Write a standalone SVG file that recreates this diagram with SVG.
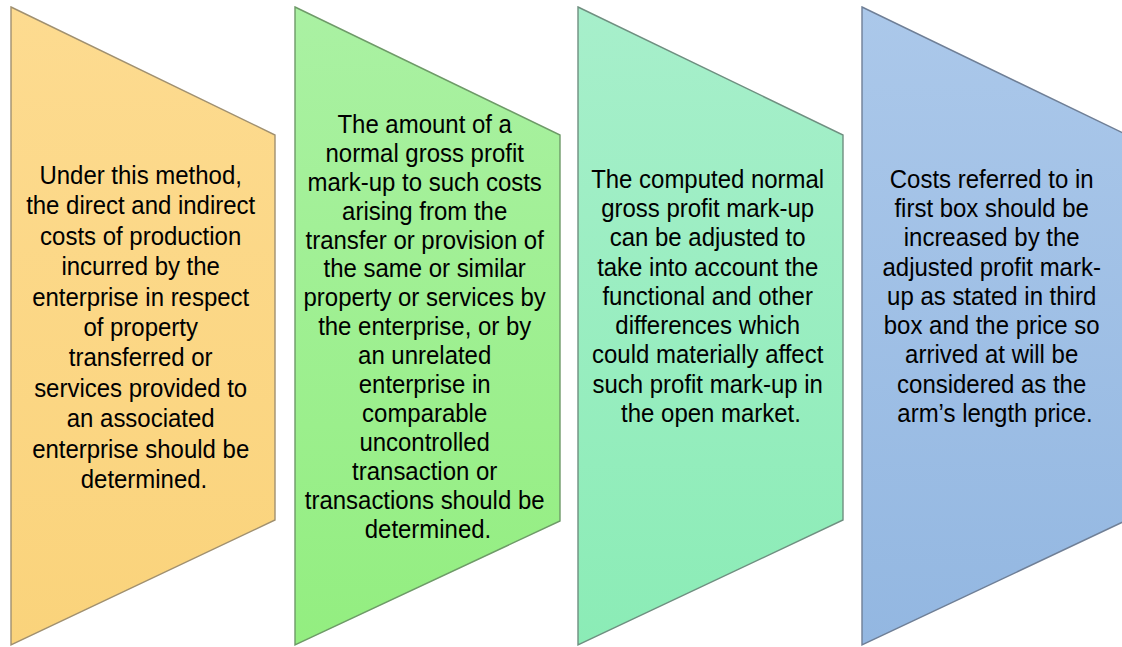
<svg xmlns="http://www.w3.org/2000/svg" width="1122" height="647" viewBox="0 0 1122 647">
<defs>
<linearGradient id="gO" x1="0" y1="0" x2="0" y2="1"><stop offset="0" stop-color="#FDDB90"/><stop offset="1" stop-color="#FAD37B"/></linearGradient>
<linearGradient id="gG" x1="0" y1="0" x2="0" y2="1"><stop offset="0" stop-color="#AAF1A3"/><stop offset="1" stop-color="#93EE80"/></linearGradient>
<linearGradient id="gT" x1="0" y1="0" x2="0" y2="1"><stop offset="0" stop-color="#A7EFCB"/><stop offset="1" stop-color="#8BECB6"/></linearGradient>
<linearGradient id="gB" x1="0" y1="0" x2="0" y2="1"><stop offset="0" stop-color="#ABC8EA"/><stop offset="1" stop-color="#93B7E1"/></linearGradient>
</defs>
<style>
.s{stroke-width:1.4;stroke-linejoin:miter}
.t{font-family:"Liberation Sans",Arial,sans-serif;font-size:25.5px;fill:#000;text-anchor:middle}
</style>
<rect width="1122" height="647" fill="#fff"/>
<g id="node1">
<polygon class="s" points="11,7 275,135 275,520 11,645" fill="url(#gO)" stroke="#A09070"/>
<text class="t" transform="translate(144,184) scale(0.94,1)">
<tspan x="0" y="0">Under this method,</tspan>
<tspan x="0" dy="30.4">the direct and indirect</tspan>
<tspan x="0" dy="30.4">costs of production</tspan>
<tspan x="0" dy="30.4">incurred by the</tspan>
<tspan x="0" dy="30.4">enterprise in respect</tspan>
<tspan x="0" dy="30.4">of property</tspan>
<tspan x="0" dy="30.4">transferred or</tspan>
<tspan x="0" dy="30.4">services provided to</tspan>
<tspan x="0" dy="30.4">an associated</tspan>
<tspan x="0" dy="30.4">enterprise should be</tspan>
<tspan x="0" dy="30.4">determined.</tspan>
</text>
</g>
<g id="node2">
<polygon class="s" points="295,7 560,135 560,521 295,645" fill="url(#gG)" stroke="#6E9A68"/>
<text class="t" transform="translate(428,133) scale(0.94,1)">
<tspan x="0" y="0">The amount of a</tspan>
<tspan x="0" dy="28.9">normal gross profit</tspan>
<tspan x="0" dy="28.9">mark-up to such costs</tspan>
<tspan x="0" dy="28.9">arising from the</tspan>
<tspan x="0" dy="28.9">transfer or provision of</tspan>
<tspan x="0" dy="28.9">the same or similar</tspan>
<tspan x="0" dy="28.9">property or services by</tspan>
<tspan x="0" dy="28.9">the enterprise, or by</tspan>
<tspan x="0" dy="28.9">an unrelated</tspan>
<tspan x="0" dy="28.9">enterprise in</tspan>
<tspan x="0" dy="28.9">comparable</tspan>
<tspan x="0" dy="28.9">uncontrolled</tspan>
<tspan x="0" dy="28.9">transaction or</tspan>
<tspan x="0" dy="28.9">transactions should be</tspan>
<tspan x="0" dy="28.9">determined.</tspan>
</text>
</g>
<g id="node3">
<polygon class="s" points="578,7 843,135 843,520 578,645" fill="url(#gT)" stroke="#6F8F80"/>
<text class="t" transform="translate(711,188) scale(0.94,1)">
<tspan x="0" y="0">The computed normal</tspan>
<tspan x="0" dy="29.25">gross profit mark-up</tspan>
<tspan x="0" dy="29.25">can be adjusted to</tspan>
<tspan x="0" dy="29.25">take into account the</tspan>
<tspan x="0" dy="29.25">functional and other</tspan>
<tspan x="0" dy="29.25">differences which</tspan>
<tspan x="0" dy="29.25">could materially affect</tspan>
<tspan x="0" dy="29.25">such profit mark-up in</tspan>
<tspan x="0" dy="29.25">the open market.</tspan>
</text>
</g>
<g id="node4">
<polygon class="s" points="862,7 1127,135 1127,520 862,645" fill="url(#gB)" stroke="#6F7F96"/>
<text class="t" transform="translate(995,188) scale(0.94,1)">
<tspan x="0" y="0">Costs referred to in</tspan>
<tspan x="0" dy="29.25">first box should be</tspan>
<tspan x="0" dy="29.25">increased by the</tspan>
<tspan x="0" dy="29.25">adjusted profit mark-</tspan>
<tspan x="0" dy="29.25">up as stated in third</tspan>
<tspan x="0" dy="29.25">box and the price so</tspan>
<tspan x="0" dy="29.25">arrived at will be</tspan>
<tspan x="0" dy="29.25">considered as the</tspan>
<tspan x="0" dy="29.25">arm’s length price.</tspan>
</text>
</g>
<g id="connectors"/>
</svg>
